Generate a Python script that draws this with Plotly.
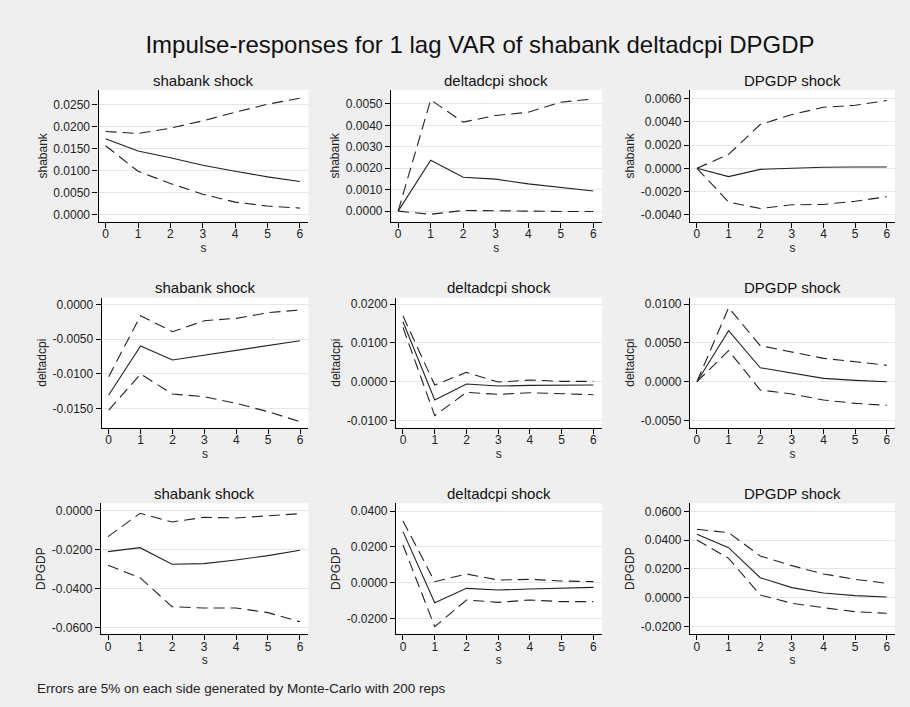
import plotly.graph_objects as go

W, H = 910, 707

steps = [0, 1, 2, 3, 4, 5, 6]
variables = ["shabank", "deltadcpi", "DPGDP"]
panel_titles = ["shabank shock", "deltadcpi shock", "DPGDP shock"]

# response of shabank
irf_sh_sh = [0.01727, 0.01447, 0.01295, 0.01121, 0.00985, 0.00856, 0.0075]
hi_sh_sh = [0.01894, 0.01848, 0.0197, 0.02136, 0.02333, 0.02515, 0.02652]
lo_sh_sh = [0.01568, 0.00985, 0.00705, 0.00462, 0.0028, 0.0019, 0.00144]

irf_sh_cpi = [0.0, 0.00237, 0.00158, 0.00149, 0.00127, 0.0011, 0.00094]
hi_sh_cpi = [0.0, 0.00519, 0.00415, 0.00446, 0.00461, 0.00508, 0.00523]
lo_sh_cpi = [0.0, -0.00015, 0.00003, 0.00003, 0.0, -0.00002, -0.00002]

irf_sh_gdp = [0.0, -0.00072, -0.00009, 0.0, 0.00009, 0.00011, 0.00011]
hi_sh_gdp = [0.0, 0.0012, 0.00378, 0.00464, 0.00527, 0.00544, 0.00585]
lo_sh_gdp = [0.0, -0.00292, -0.00347, -0.00315, -0.00312, -0.00284, -0.00246]

# response of deltadcpi
irf_cpi_sh = [-0.01308, -0.00601, -0.00803, -0.00731, -0.00659, -0.00591, -0.00524]
hi_cpi_sh = [-0.01043, -0.00163, -0.00394, -0.00236, -0.00202, -0.0012, -0.00082]
lo_cpi_sh = [-0.01524, -0.01005, -0.01293, -0.01332, -0.01428, -0.01548, -0.01692]

irf_cpi_cpi = [0.01547, -0.00473, -0.0006, -0.00112, -0.00095, -0.00086, -0.00086]
hi_cpi_cpi = [0.01693, -0.00086, 0.00241, -0.00009, 0.00043, 0.00009, 0.00009]
lo_cpi_cpi = [0.01401, -0.00877, -0.00275, -0.00327, -0.00284, -0.00301, -0.00335]

irf_cpi_gdp = [0.0, 0.00658, 0.0018, 0.00107, 0.00043, 0.00017, 0.0]
hi_cpi_gdp = [0.0, 0.00954, 0.00464, 0.00378, 0.00301, 0.00258, 0.00211]
lo_cpi_gdp = [0.0, 0.004, -0.00107, -0.00159, -0.00236, -0.00279, -0.00305]

# response of DPGDP
irf_gdp_sh = [-0.02109, -0.01903, -0.0276, -0.02726, -0.02537, -0.02314, -0.0204]
hi_gdp_sh = [-0.01337, -0.00137, -0.00583, -0.00343, -0.00377, -0.00274, -0.00154]
lo_gdp_sh = [-0.02812, -0.03446, -0.04937, -0.05006, -0.05006, -0.05246, -0.05709]

irf_gdp_cpi = [0.02851, -0.01118, -0.00317, -0.0041, -0.00354, -0.00298, -0.00261]
hi_gdp_cpi = [0.03447, 0.00056, 0.00484, 0.00149, 0.00186, 0.00093, 0.00056]
lo_gdp_cpi = [0.02105, -0.0246, -0.00969, -0.01099, -0.00969, -0.01062, -0.01062]

irf_gdp_gdp = [0.04406, 0.03478, 0.01391, 0.00696, 0.00325, 0.00139, 0.00046]
hi_gdp_gdp = [0.04754, 0.04522, 0.02899, 0.02226, 0.01646, 0.01275, 0.00997]
lo_gdp_gdp = [0.04012, 0.02736, 0.00186, -0.00394, -0.00696, -0.00974, -0.0109]

# y tick values per panel
ticks_sh_sh = [0.0, 0.005, 0.01, 0.015, 0.02, 0.025]
ticks_sh_cpi = [0.0, 0.001, 0.002, 0.003, 0.004, 0.005]
ticks_sh_gdp = [-0.004, -0.002, 0.0, 0.002, 0.004, 0.006]
ticks_cpi_sh = [-0.015, -0.01, -0.005, 0.0]
ticks_cpi_cpi = [-0.01, 0.0, 0.01, 0.02]
ticks_cpi_gdp = [-0.005, 0.0, 0.005, 0.01]
ticks_gdp_sh = [-0.06, -0.04, -0.02, 0.0]
ticks_gdp_cpi = [-0.02, 0.0, 0.02, 0.04]
ticks_gdp_gdp = [-0.02, 0.0, 0.02, 0.04, 0.06]

panels = [
    (irf_sh_sh, hi_sh_sh, lo_sh_sh, ticks_sh_sh),
    (irf_sh_cpi, hi_sh_cpi, lo_sh_cpi, ticks_sh_cpi),
    (irf_sh_gdp, hi_sh_gdp, lo_sh_gdp, ticks_sh_gdp),
    (irf_cpi_sh, hi_cpi_sh, lo_cpi_sh, ticks_cpi_sh),
    (irf_cpi_cpi, hi_cpi_cpi, lo_cpi_cpi, ticks_cpi_cpi),
    (irf_cpi_gdp, hi_cpi_gdp, lo_cpi_gdp, ticks_cpi_gdp),
    (irf_gdp_sh, hi_gdp_sh, lo_gdp_sh, ticks_gdp_sh),
    (irf_gdp_cpi, hi_gdp_cpi, lo_gdp_cpi, ticks_gdp_cpi),
    (irf_gdp_gdp, hi_gdp_gdp, lo_gdp_gdp, ticks_gdp_gdp),
]

# layout geometry (pixels)
x_px = [
    (98.5, 308.3), (391, 601.7), (690, 895),
    (101.7, 308.3), (396, 601.7), (690, 895),
    (101, 308.3), (396, 601.7), (690, 895),
]
row_y_px = [(90, 221.7), (297.7, 427.7), (503.3, 634)]
y_ranges = [
    (-0.00167, 0.02841), (-0.000495, 0.00565), (-0.00461, 0.00676),
    (-0.01779, 0.00096), (-0.01186, 0.02166), (-0.00593, 0.01083),
    (-0.06343, 0.00377), (-0.02869, 0.04435), (-0.02528, 0.06562),
]
x_range = [-0.22, 6.26]

FONT = "Liberation Sans, Arial, sans-serif"
LINE_COL = "#222222"

fig = go.Figure()
layout = {}
annotations = []

for i, (irf, hi, lo, ticks) in enumerate(panels):
    r, c = divmod(i, 3)
    n = i + 1
    xa = "x" if n == 1 else f"x{n}"
    ya = "y" if n == 1 else f"y{n}"
    for series, dash in ((hi, "11px,6px"), (lo, "11px,6px"), (irf, "solid")):
        fig.add_trace(go.Scatter(
            x=steps, y=series, mode="lines", xaxis=xa, yaxis=ya,
            line=dict(color=LINE_COL, width=1.1, dash=dash),
            showlegend=False, hoverinfo="skip",
        ))
    x0, x1 = x_px[i]
    yt, yb = row_y_px[r]
    layout[f"xaxis{'' if n == 1 else n}"] = dict(
        domain=[x0 / W, x1 / W], range=x_range, anchor=ya,
        tickvals=steps, ticktext=[str(s) for s in steps],
        ticks="outside", ticklen=5, tickwidth=1, tickcolor="black",
        ticklabelstandoff=-4,
        showline=True, linecolor="black", linewidth=1.2,
        showgrid=False, zeroline=False,
        tickfont=dict(size=12, color="#222", family=FONT),
        title=dict(text="s", font=dict(size=12, color="#222", family=FONT), standoff=0),
        fixedrange=True,
    )
    layout[f"yaxis{'' if n == 1 else n}"] = dict(
        domain=[1 - yb / H, 1 - yt / H], range=list(y_ranges[i]), anchor=xa,
        tickvals=ticks, ticktext=[f"{v:.4f}" for v in ticks],
        ticks="outside", ticklen=5, tickwidth=1, tickcolor="black",
        showline=True, linecolor="black", linewidth=1.2,
        showgrid=True, gridcolor="#e6e6e6", gridwidth=1.3, zeroline=False,
        tickfont=dict(size=12, color="#222", family=FONT),
        title=dict(text=variables[r], font=dict(size=12, color="#222", family=FONT), standoff=3),
        fixedrange=True,
    )
    annotations.append(dict(
        text=panel_titles[c], xref="paper", yref="paper",
        x=(x0 + x1) / 2 / W, y=1 - (yt - 10) / H,
        xanchor="center", yanchor="middle", showarrow=False,
        font=dict(size=15, color="#111", family=FONT),
    ))

annotations.append(dict(
    text="Errors are 5% on each side generated by Monte-Carlo with 200 reps",
    xref="paper", yref="paper", x=35 / W, y=1 - 688 / H,
    xanchor="left", yanchor="middle", showarrow=False,
    font=dict(size=13.5, color="#222", family=FONT),
))

fig.update_layout(
    **layout,
    annotations=annotations,
    title=dict(
        text="Impulse-responses for 1 lag VAR of shabank deltadcpi DPGDP",
        x=480 / W, y=1 - 45 / H, xanchor="center", yanchor="middle",
        xref="paper", yref="paper",
        font=dict(size=24, color="#111", family=FONT),
    ),
    width=W, height=H,
    margin=dict(l=0, r=0, t=0, b=0),
    paper_bgcolor="#efefef", plot_bgcolor="white",
    showlegend=False,
)

fig.write_html(
    "out.html", include_plotlyjs=True, config={"displayModeBar": False},
    post_script="document.body.style.margin='0';document.body.style.overflow='hidden';",
)
